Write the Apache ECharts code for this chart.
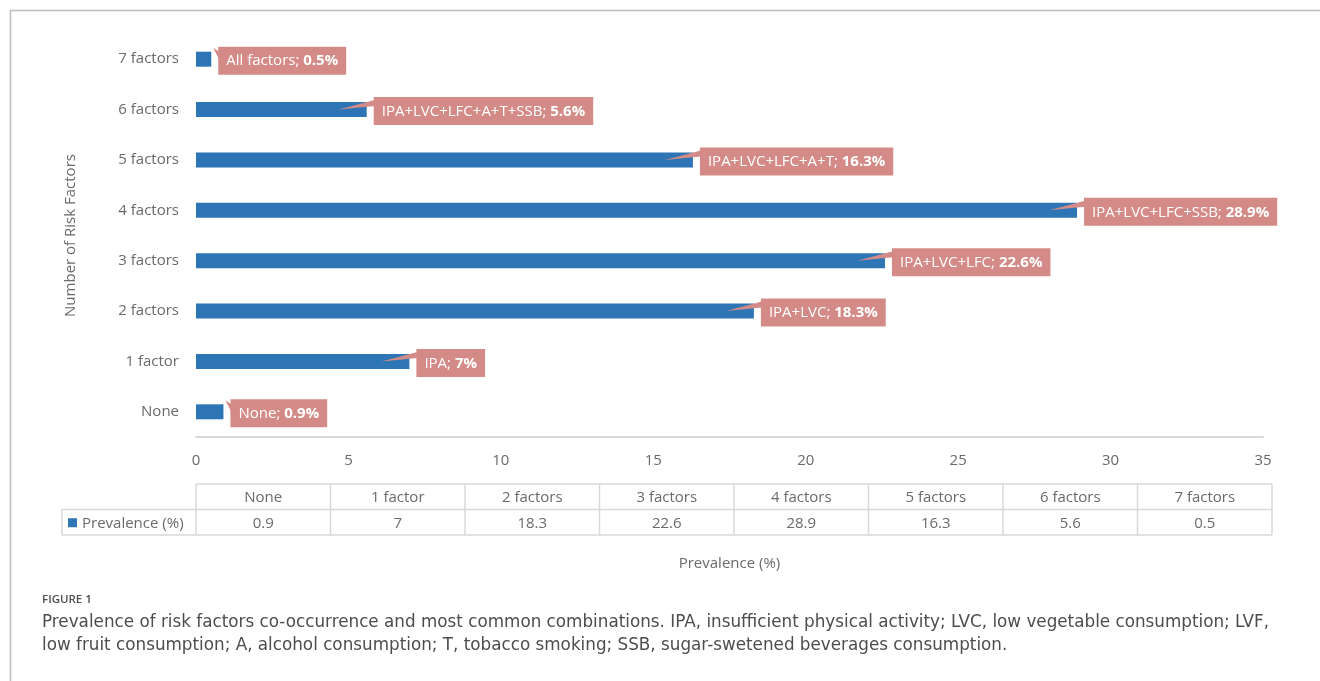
<!DOCTYPE html>
<html><head><meta charset="utf-8">
<script src="https://cdn.jsdelivr.net/npm/echarts@6/dist/echarts.min.js"></script>
<style>html,body{margin:0;padding:0;background:#fff}#c{width:1320px;height:681px}</style>
</head><body><div id="c"></div>
<script>
const categories = ['None','1 factor','2 factors','3 factors','4 factors','5 factors','6 factors','7 factors'];
const prevalence = [0.9, 7, 18.3, 22.6, 28.9, 16.3, 5.6, 0.5];
const combinations = ['None','IPA','IPA+LVC','IPA+LVC+LFC','IPA+LVC+LFC+SSB','IPA+LVC+LFC+A+T','IPA+LVC+LFC+A+T+SSB','All factors'];
const xTicks = [0, 5, 10, 15, 20, 25, 30, 35];
const seriesName = 'Prevalence (%)';
const yTitle = 'Number of Risk Factors';
const figLabel = 'FIGURE 1';
const captionLines = [
  'Prevalence of risk factors co-occurrence and most common combinations. IPA, insufficient physical activity; LVC, low vegetable consumption; LVF,',
  'low fruit consumption; A, alcohol consumption; T, tobacco smoking; SSB, sugar-swetened beverages consumption.'
];

const FONT = '"Open Sans", sans-serif';
const CAPFONT = '"DejaVu Sans", sans-serif';
const GRAY = '#6a6a6a';
const BLUE = '#2E75B6';
const PINK = '#D48B87';
const G = {left: 196, right: 57, top: 34, bottom: 244};
const W = 1320, H = 681;

const chart = echarts.init(document.getElementById('c'), null, {renderer: 'canvas'});

// data table built from arrays
const tbl = [];
const tLeft = G.left, tRight = 1272, tTop = 484, rowH = 25.5;
const colW = (tRight - tLeft) / categories.length;
const lineStyle = {stroke: '#d9d9d9', lineWidth: 1.5};
tbl.push({type:'line', shape:{x1:tLeft, y1:tTop, x2:tRight, y2:tTop}, style:lineStyle});
tbl.push({type:'line', shape:{x1:62, y1:tTop+rowH, x2:tRight, y2:tTop+rowH}, style:lineStyle});
tbl.push({type:'line', shape:{x1:62, y1:tTop+2*rowH, x2:tRight, y2:tTop+2*rowH}, style:lineStyle});
tbl.push({type:'line', shape:{x1:62, y1:tTop+rowH, x2:62, y2:tTop+2*rowH}, style:lineStyle});
for (let i = 0; i <= categories.length; i++) {
  const x = tLeft + i * colW;
  tbl.push({type:'line', shape:{x1:x, y1:tTop, x2:x, y2:tTop+2*rowH}, style:lineStyle});
}
categories.forEach((c, i) => {
  const cx = tLeft + (i + 0.5) * colW;
  tbl.push({type:'text', x:cx, y:tTop + rowH/2 + 1, style:{text:c, fill:GRAY, font:'15px ' + FONT, align:'center', verticalAlign:'middle'}});
  tbl.push({type:'text', x:cx, y:tTop + 1.5*rowH + 1, style:{text:String(prevalence[i]), fill:GRAY, font:'15px ' + FONT, align:'center', verticalAlign:'middle'}});
});
tbl.push({type:'rect', shape:{x:68, y:tTop+1.5*rowH-4, width:9, height:9}, style:{fill:BLUE}});
tbl.push({type:'text', x:82, y:tTop+1.5*rowH+1, style:{text:seriesName, fill:GRAY, font:'15px ' + FONT, align:'left', verticalAlign:'middle'}});

// frame and caption
const frame = [
  {type:'line', shape:{x1:10, y1:10.5, x2:W, y2:10.5}, style:{stroke:'#bdbdbd', lineWidth:1.5}},
  {type:'line', shape:{x1:10.5, y1:10, x2:10.5, y2:H}, style:{stroke:'#bdbdbd', lineWidth:1.5}},
  {type:'text', x:42, y:600, style:{text:figLabel, fill:'#4d4d4d', font:'600 11.5px ' + FONT, verticalAlign:'middle'}},
  {type:'text', x:42, y:623, style:{text:captionLines[0], fill:'#4d4d4d', font:'16.8px ' + CAPFONT, verticalAlign:'middle'}},
  {type:'text', x:42, y:646, style:{text:captionLines[1], fill:'#4d4d4d', font:'16.8px ' + CAPFONT, verticalAlign:'middle'}}
];

const calloutData = prevalence.map((v, i) => [v, i, combinations[i]]);

chart.setOption({
  animation: false,
  grid: {left: G.left, right: G.right, top: G.top, bottom: G.bottom, containLabel: false},
  xAxis: {
    type: 'value', min: xTicks[0], max: xTicks[xTicks.length-1], interval: xTicks[1]-xTicks[0],
    name: seriesName, nameLocation: 'middle', nameGap: 119,
    nameTextStyle: {color: GRAY, fontSize: 15, fontFamily: FONT},
    axisLine: {show: true, lineStyle: {color: '#d9d9d9', width: 2}}, axisTick: {show: false}, splitLine: {show: false},
    axisLabel: {color: GRAY, fontSize: 15, fontFamily: FONT, margin: 16}
  },
  yAxis: {
    type: 'category', data: categories,
    name: yTitle, nameLocation: 'middle', nameGap: 118, nameRotate: 90,
    nameTextStyle: {color: GRAY, fontSize: 15, fontFamily: FONT},
    axisLine: {show: false}, axisTick: {show: false},
    axisLabel: {color: GRAY, fontSize: 15, fontFamily: FONT, margin: 17}
  },
  graphic: frame.concat(tbl),
  series: [
    {type: 'bar', name: seriesName, data: prevalence, barWidth: 15, itemStyle: {color: BLUE}, z: 2},
    {
      type: 'custom', data: calloutData, z: 5,
      encode: {x: 0, y: 1},
      renderItem: function (params, api) {
        const v = api.value(0), idx = api.value(1);
        const name = calloutData[params.dataIndex][2];
        const end = api.coord([v, idx]);
        const start = api.coord([0, idx]);
        const bx = end[0] + 7;
        const cy = end[1] + 1.5;
        const top = cy - 14;
        let poly;
        if (end[0] - start[0] > 40) {
          poly = [[bx + 1, top + 3], [bx + 1, top + 9], [end[0] - 28, end[1]]];
        } else {
          poly = [[bx + 1, top + 5], [bx + 1, top + 13], [end[0] + 2, top + 1]];
        }
        return {
          type: 'group',
          children: [
            {type: 'polygon', shape: {points: poly}, style: {fill: PINK}},
            {type: 'text', x: bx, y: cy, style: {
              text: '{n|' + name + '; }{b|' + v + '%}',
              rich: {
                n: {fill: '#fff', fontSize: 15, fontFamily: FONT, lineHeight: 19},
                b: {fill: '#fff', fontSize: 15, fontFamily: FONT, fontWeight: 'bold', lineHeight: 19}
              },
              backgroundColor: PINK, padding: [5, 8, 4, 8], lineHeight: 19,
              align: 'left', verticalAlign: 'middle'
            }}
          ]
        };
      }
    }
  ]
});
</script></body></html>
